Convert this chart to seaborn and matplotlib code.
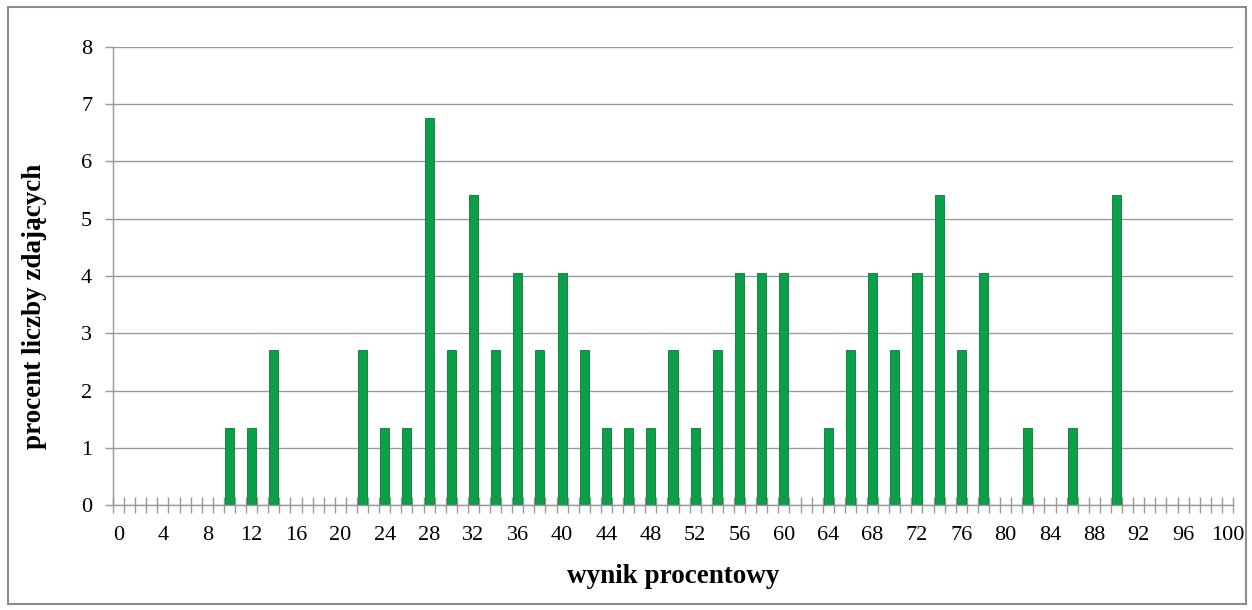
import pandas as pd
import matplotlib
matplotlib.use("Agg")
import matplotlib.pyplot as plt
import seaborn as sns
from matplotlib.patches import Rectangle

# dane: wynik procentowy -> procent liczby zdajacych (n = 74)
wyniki = [10, 12, 14, 22, 24, 26, 28, 30, 32, 34, 36, 38, 40, 42, 44, 46, 48,
          50, 52, 54, 56, 58, 60, 64, 66, 68, 70, 72, 74, 76, 78, 82, 86, 90]
procent = [1.35, 1.35, 2.70, 2.70, 1.35, 1.35, 6.76, 2.70, 5.41, 2.70, 4.05,
           2.70, 4.05, 2.70, 1.35, 1.35, 1.35, 2.70, 1.35, 2.70, 4.05, 4.05,
           4.05, 1.35, 2.70, 4.05, 2.70, 4.05, 5.41, 2.70, 4.05, 1.35, 1.35,
           5.41]
kategorie = list(range(0, 101))
etykiety_x = [str(k) for k in range(0, 101, 4)]
etykiety_y = list(range(0, 9))

df = pd.DataFrame({"wynik": kategorie})
df = df.merge(pd.DataFrame({"wynik": wyniki, "procent": procent}),
              on="wynik", how="left").fillna(0)

sns.set_style("white")
plt.rcParams["font.family"] = ["Liberation Serif", "DejaVu Serif"]
plt.rcParams["text.color"] = "black"

fig = plt.figure(figsize=(12.52, 6.10), dpi=100)
ax = fig.add_axes([0.0903, 0.172, 0.8945, 0.751])

sns.barplot(data=df, x="wynik", y="procent", order=kategorie, ax=ax,
            color="#0a9f48", edgecolor="#077a36", linewidth=0.6,
            width=0.82, saturation=1)

ax.set_xlim(-0.5, 100.5)
ax.set_ylim(0, 8)
ax.set_yticks(etykiety_y)
ax.set_yticklabels([str(v) for v in etykiety_y], fontsize=16, color="black")
ax.set_xticks(range(0, 101, 4))
ax.set_xticklabels(etykiety_x, fontsize=16, color="black")
ax.set_xticks([k - 0.5 for k in range(0, 102)], minor=True)
ax.tick_params(axis="x", which="major", length=0, pad=15, bottom=True)
ax.tick_params(axis="x", which="minor", length=12, direction="inout",
               color="#999999", width=1, bottom=True)
ax.tick_params(axis="y", which="major", length=6, direction="out",
               color="#999999", width=1, pad=9, left=True)

ax.yaxis.grid(True, color="#9a9a9a", linewidth=1)
ax.set_axisbelow(True)
for s in ["top", "right"]:
    ax.spines[s].set_visible(False)
for s in ["left", "bottom"]:
    ax.spines[s].set_color("#999999")
    ax.spines[s].set_linewidth(1)

ax.set_xlabel("wynik procentowy", fontsize=19.5, fontweight="bold",
              color="black")
ax.set_ylabel("procent liczby zdających", fontsize=19.5, fontweight="bold",
              color="black")
ax.xaxis.set_label_coords(0.5, -0.128)
ax.yaxis.set_label_coords(-0.059, 0.434)

fig.add_artist(Rectangle((0.006, 0.01), 0.989, 0.978,
                         transform=fig.transFigure, fill=False,
                         edgecolor="#8c8c8c", linewidth=1.5))

fig.savefig("out.png", dpi=100)
